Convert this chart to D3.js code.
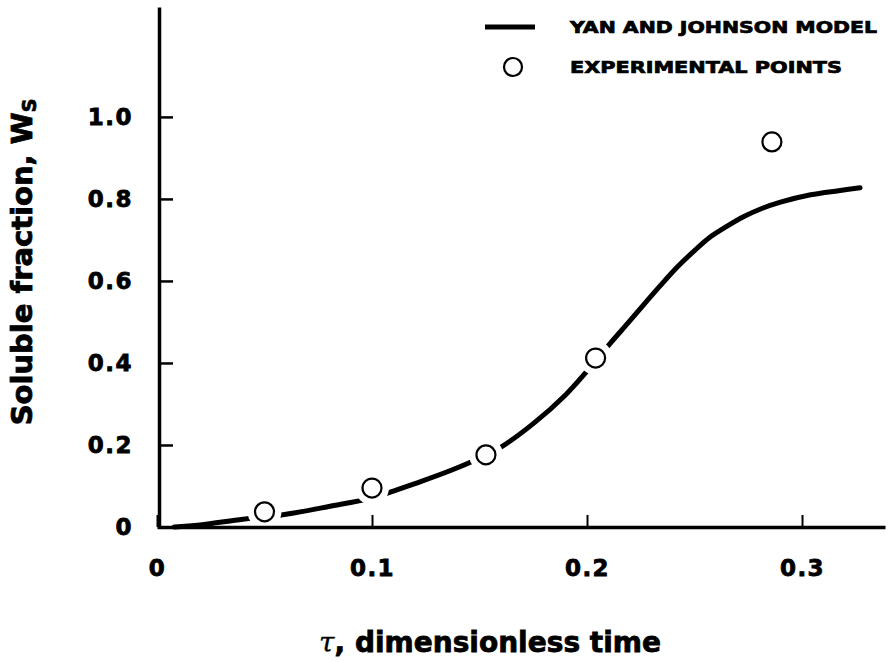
<!DOCTYPE html>
<html>
<head>
<meta charset="utf-8">
<script src="https://cdn.jsdelivr.net/npm/d3@7"></script>
<style>
  body { margin: 0; background: #fff; }
  .chart { width: 888px; height: 662px; }
  text { font-family: "DejaVu Sans", sans-serif; font-weight: bold; fill: #000; }
</style>
</head>
<body>
<div class="chart"></div>
<script>
// Tick values
const xTicks = [0, 0.1, 0.2, 0.3];
const yTicks = [0, 0.2, 0.4, 0.6, 0.8, 1.0];

// Yan and Johnson model curve
const modelTau = [0.008, 0.02, 0.04, 0.06, 0.08, 0.1, 0.12, 0.14, 0.16, 0.175, 0.19, 0.2, 0.211, 0.219, 0.226, 0.234, 0.242, 0.25, 0.257, 0.265, 0.273, 0.281, 0.29, 0.304, 0.317, 0.327];
const modelWs  = [0.0, 0.005, 0.019, 0.031, 0.05, 0.071, 0.106, 0.145, 0.195, 0.252, 0.322, 0.38, 0.449, 0.497, 0.54, 0.588, 0.634, 0.674, 0.706, 0.733, 0.757, 0.776, 0.792, 0.81, 0.82, 0.827];

// Experimental points
const expTau = [0.05, 0.1, 0.153, 0.204, 0.286];
const expWs  = [0.037, 0.095, 0.176, 0.412, 0.939];

function createChart(containerSelector) {
    const width = 888, height = 662;

    const svg = d3.select(containerSelector)
        .append("svg")
        .attr("width", width)
        .attr("height", height);

    // Scales
    const x = d3.scaleLinear().domain([0, 0.3386]).range([157, 885]);
    const y = d3.scaleLinear().domain([0, 1.268]).range([527, 7]);

    // Model curve
    const curve = modelTau.map((t, i) => [t, modelWs[i]]);
    const line = d3.line()
        .x(d => x(d[0]))
        .y(d => y(d[1]))
        .curve(d3.curveCatmullRom);
    svg.append("path")
        .datum(curve)
        .attr("d", line)
        .attr("fill", "none")
        .attr("stroke", "#000")
        .attr("stroke-width", 5)
        .attr("stroke-linecap", "round");

    // Experimental points, the curve is broken around each one
    const pts = expTau.map((t, i) => [t, expWs[i]]);
    svg.selectAll(".halo")
        .data(pts)
        .enter()
        .append("circle")
        .attr("cx", d => x(d[0]))
        .attr("cy", d => y(d[1]))
        .attr("r", 17)
        .attr("fill", "#fff");
    svg.selectAll(".pt")
        .data(pts)
        .enter()
        .append("circle")
        .attr("cx", d => x(d[0]))
        .attr("cy", d => y(d[1]))
        .attr("r", 9.5)
        .attr("fill", "#fff")
        .attr("stroke", "#000")
        .attr("stroke-width", 2.2);

    // X axis, ticks pointing up
    const xAxis = svg.append("g")
        .attr("transform", `translate(0,${y(0)})`)
        .call(d3.axisBottom(x)
            .tickValues(xTicks)
            .tickFormat(d => d === 0 ? "0" : d3.format(".1f")(d))
            .tickSizeInner(-12)
            .tickSizeOuter(0)
            .tickPadding(33));
    xAxis.select(".domain").attr("stroke-width", 3.5);
    xAxis.selectAll(".tick line").attr("stroke-width", 2);

    // Y axis, ticks pointing right
    const yAxis = svg.append("g")
        .attr("transform", `translate(${x(0) + 2},0)`)
        .call(d3.axisLeft(y)
            .tickValues(yTicks)
            .tickFormat(d => d === 0 ? "0" : d3.format(".1f")(d))
            .tickSizeInner(-14)
            .tickSizeOuter(0)
            .tickPadding(26));
    yAxis.select(".domain").attr("stroke-width", 3.5);
    yAxis.selectAll(".tick line").attr("stroke-width", 2.5);

    svg.selectAll(".tick text")
        .attr("font-size", "23px")
        .attr("font-family", "DejaVu Sans")
        .attr("font-weight", "bold")
        .attr("letter-spacing", "1.5px")
        .attr("stroke", "#000")
        .attr("stroke-width", 0.8);

    // Legend
    svg.append("line")
        .attr("x1", 485).attr("x2", 535)
        .attr("y1", 27).attr("y2", 27)
        .attr("stroke", "#000")
        .attr("stroke-width", 5);
    svg.append("text")
        .attr("x", 570).attr("y", 33)
        .attr("font-size", "16px")
        .attr("stroke", "#000")
        .attr("stroke-width", 0.7)
        .attr("textLength", 307)
        .attr("lengthAdjust", "spacingAndGlyphs")
        .text("YAN AND JOHNSON MODEL");
    svg.append("circle")
        .attr("cx", 513).attr("cy", 67)
        .attr("r", 9)
        .attr("fill", "#fff")
        .attr("stroke", "#000")
        .attr("stroke-width", 2.2);
    svg.append("text")
        .attr("x", 570).attr("y", 73)
        .attr("font-size", "16px")
        .attr("stroke", "#000")
        .attr("stroke-width", 0.7)
        .attr("textLength", 272)
        .attr("lengthAdjust", "spacingAndGlyphs")
        .text("EXPERIMENTAL POINTS");

    // Y axis title
    const yTitle = svg.append("text")
        .attr("transform", "translate(32,262) rotate(-90)")
        .attr("text-anchor", "middle")
        .attr("font-size", "29px")
        .attr("stroke", "#000")
        .attr("stroke-width", 0.8);
    yTitle.append("tspan").text("Soluble fraction, W");
    yTitle.append("tspan").attr("font-size", "19px").attr("dy", "4").text("S");

    // X axis title
    const xTitle = svg.append("text")
        .attr("x", 490).attr("y", 652)
        .attr("text-anchor", "middle")
        .attr("font-size", "28px")
        .attr("stroke", "#000")
        .attr("stroke-width", 0.8);
    xTitle.append("tspan")
        .attr("font-family", "DejaVu Serif")
        .attr("font-style", "italic")
        .attr("font-weight", "normal")
        .attr("stroke-width", 0.3)
        .text("τ");
    xTitle.append("tspan").text(", dimensionless time");
}

createChart(".chart");
</script>
</body>
</html>
